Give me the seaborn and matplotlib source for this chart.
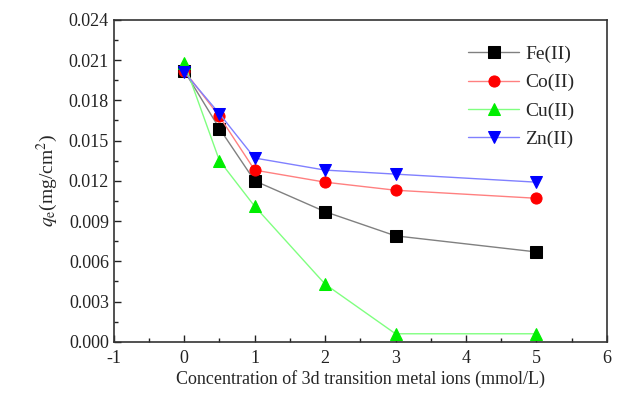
import numpy as np
import pandas as pd
import matplotlib
matplotlib.use("Agg")
import matplotlib.pyplot as plt
import seaborn as sns
from matplotlib.ticker import MultipleLocator, FormatStrFormatter

sns.set_style("ticks")
plt.rcParams['font.family'] = ['Liberation Serif', 'DejaVu Serif']
plt.rcParams['mathtext.fontset'] = 'stix'
plt.rcParams['axes.unicode_minus'] = False

conc = [0, 0.5, 1, 2, 3, 5]
fe = [0.0202, 0.0159, 0.0120, 0.0097, 0.0079, 0.0067]
co = [0.0202, 0.0168, 0.0128, 0.0119, 0.0113, 0.0107]
cu = [0.0208, 0.0135, 0.0101, 0.0043, 0.0006, 0.0006]
zn = [0.0201, 0.0170, 0.0137, 0.0128, 0.0125, 0.0119]

labels = ["Fe(II)", "Co(II)", "Cu(II)", "Zn(II)"]
series = [fe, co, cu, zn]
markers = ["s", "o", "^", "v"]
mcolors = ["#000000", "#ff0000", "#00ee00", "#0000ff"]
lcolors = ["#808080", "#ff8080", "#80ff80", "#8080ff"]

fig = plt.figure(figsize=(6.36, 4.05), dpi=100)
ax = fig.add_axes([0.179, 0.156, 0.775, 0.795])

for lab, vals, m, mc, lc in zip(labels, series, markers, mcolors, lcolors):
    df = pd.DataFrame({"x": conc, "y": vals})
    sns.lineplot(data=df, x="x", y="y", ax=ax, color=lc, linewidth=1,
                 marker=m, markersize=8, markerfacecolor=mc,
                 markeredgecolor=mc, label=lab)

ax.set_xlim(-1, 6)
ax.set_ylim(0, 0.024)
ax.xaxis.set_major_locator(MultipleLocator(1))
ax.xaxis.set_minor_locator(MultipleLocator(0.5))
ax.yaxis.set_major_locator(MultipleLocator(0.003))
ax.yaxis.set_minor_locator(MultipleLocator(0.0015))
ax.yaxis.set_major_formatter(FormatStrFormatter("%.3f"))
ax.tick_params(which="both", direction="in", top=False, right=False,
               labelsize=13, colors="#222222")
ax.tick_params(axis="x", pad=6)
ax.tick_params(which="major", length=5, width=1)
ax.tick_params(which="minor", length=3, width=1)
for s in ax.spines.values():
    s.set_linewidth(1.2)
    s.set_color("#333333")

ax.set_xlabel("Concentration of 3d transition metal ions (mmol/L)", fontsize=13, labelpad=2)
ax.set_ylabel(r"$q_\mathrm{e}$(mg/cm$^2$)", fontsize=14, labelpad=6)

leg = ax.legend(loc="upper right", frameon=False, fontsize=14,
                bbox_to_anchor=(0.97, 0.975), handlelength=2.65,
                handletextpad=0.3, labelspacing=0.55)

fig.savefig("out.png", dpi=100)
